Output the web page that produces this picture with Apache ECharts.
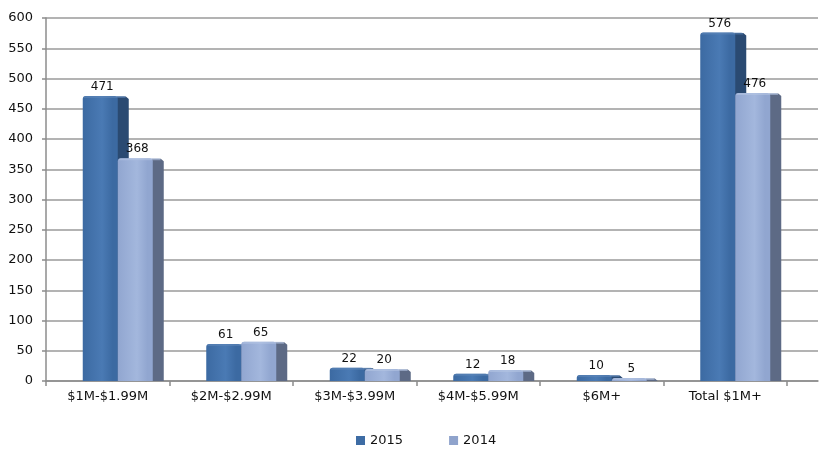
<!DOCTYPE html>
<html><head><meta charset="utf-8">
<script src="https://cdn.jsdelivr.net/npm/echarts@6/dist/echarts.min.js"></script>
<style>html,body{margin:0;padding:0;background:#fff}#c{width:830px;height:449px}</style>
</head><body><div id="c"></div>
<script>
const categories = ['$1M-$1.99M', '$2M-$2.99M', '$3M-$3.99M', '$4M-$5.99M', '$6M+', 'Total $1M+'];
const values2015 = [471, 61, 22, 12, 10, 576];
const values2014 = [368, 65, 20, 18, 5, 476];
const yTicks = { min: 0, max: 600, interval: 50 };

const FONT = 'DejaVu Sans';
const FRONT_W = 35, SIDE_W = 11;

function makeRender(offset, front, light, side, top) {
  return function (params, api) {
    const c = api.value(0), v = api.value(1);
    const p = api.coord([c, v]);
    const b = api.coord([c, 0]);
    const x = p[0] + offset;
    const y = p[1], yb = b[1];
    const h = Math.max(yb - y, 1);
    return {
      type: 'group',
      children: [
        { type: 'polygon', shape: { points: [[x + FRONT_W - 1, y + 0.5], [x + FRONT_W + SIDE_W - 3, y + 0.5], [x + FRONT_W + SIDE_W, y + 3], [x + FRONT_W + SIDE_W, yb], [x + FRONT_W - 1, yb]] },
          style: { fill: side } },
        { type: 'rect', shape: { x: x, y: y, width: FRONT_W, height: h, r: [3, 3, 0, 0] },
          style: { fill: new echarts.graphic.LinearGradient(0, 0, 1, 0, [
            { offset: 0, color: front }, { offset: 0.55, color: light }, { offset: 0.85, color: front }, { offset: 1, color: front }]) } },
        { type: 'rect', shape: { x: x + 1, y: y, width: FRONT_W + SIDE_W - 4, height: Math.min(2, h), r: [2, 2, 0, 0] },
          style: { fill: top, opacity: 0.6 } },
        { type: 'text', style: { text: String(v), x: x + FRONT_W / 2 + 2, y: y - 3, align: 'center', verticalAlign: 'bottom',
          fill: '#111', font: '12px "' + FONT + '"' } }
      ]
    };
  };
}

const chart = echarts.init(document.getElementById('c'), null, { renderer: 'canvas' });
chart.setOption({
  animation: false,
  backgroundColor: '#fff',
  grid: [
    { left: 46, right: 12, top: 18, bottom: 68 },
    { left: 46, right: 43, top: 18, bottom: 68 }
  ],
  xAxis: [
    { type: 'value', gridIndex: 0, min: 0, max: 1, axisLine: { show: true, lineStyle: { color: '#8c8c8c', width: 1.5 } },
      axisTick: { show: false }, axisLabel: { show: false }, splitLine: { show: false } },
    { type: 'category', gridIndex: 1, data: categories, boundaryGap: true,
      axisLine: { show: false }, axisTick: { show: true, length: 5, lineStyle: { color: '#8c8c8c', width: 1.5 } },
      axisLabel: { fontFamily: FONT, fontSize: 13, color: '#111', margin: 9 } }
  ],
  yAxis: [
    { type: 'value', gridIndex: 0, min: yTicks.min, max: yTicks.max, interval: yTicks.interval,
      axisLine: { show: true, lineStyle: { color: '#8c8c8c', width: 1.5 } },
      axisTick: { show: true, length: 4, lineStyle: { color: '#8c8c8c', width: 1.5 } },
      axisLabel: { fontFamily: FONT, fontSize: 13, color: '#111', margin: 13 },
      splitLine: { show: true, lineStyle: { color: '#9a9a9a', width: 1.5 } } },
    { type: 'value', gridIndex: 1, min: yTicks.min, max: yTicks.max, interval: yTicks.interval, show: false }
  ],
  legend: {
    left: 351, top: 429, itemWidth: 9, itemHeight: 9, itemGap: 46, icon: 'rect',
    textStyle: { fontFamily: FONT, fontSize: 13, color: '#111' },
    data: ['2015', '2014']
  },
  series: [
    { name: '2015', type: 'custom', xAxisIndex: 1, yAxisIndex: 1, itemStyle: { color: '#3E6CA4' },
      renderItem: makeRender(-25, '#3C6AA2', '#4A7AB4', '#2A4A72', '#5E86B8'),
      data: values2015.map((v, i) => [i, v]) },
    { name: '2014', type: 'custom', xAxisIndex: 1, yAxisIndex: 1, itemStyle: { color: '#8FA3CC' },
      renderItem: makeRender(10, '#91A6D0', '#A3B7DD', '#5D6A85', '#B4C4E3'),
      data: values2014.map((v, i) => [i, v]) }
  ]
});
</script></body></html>
